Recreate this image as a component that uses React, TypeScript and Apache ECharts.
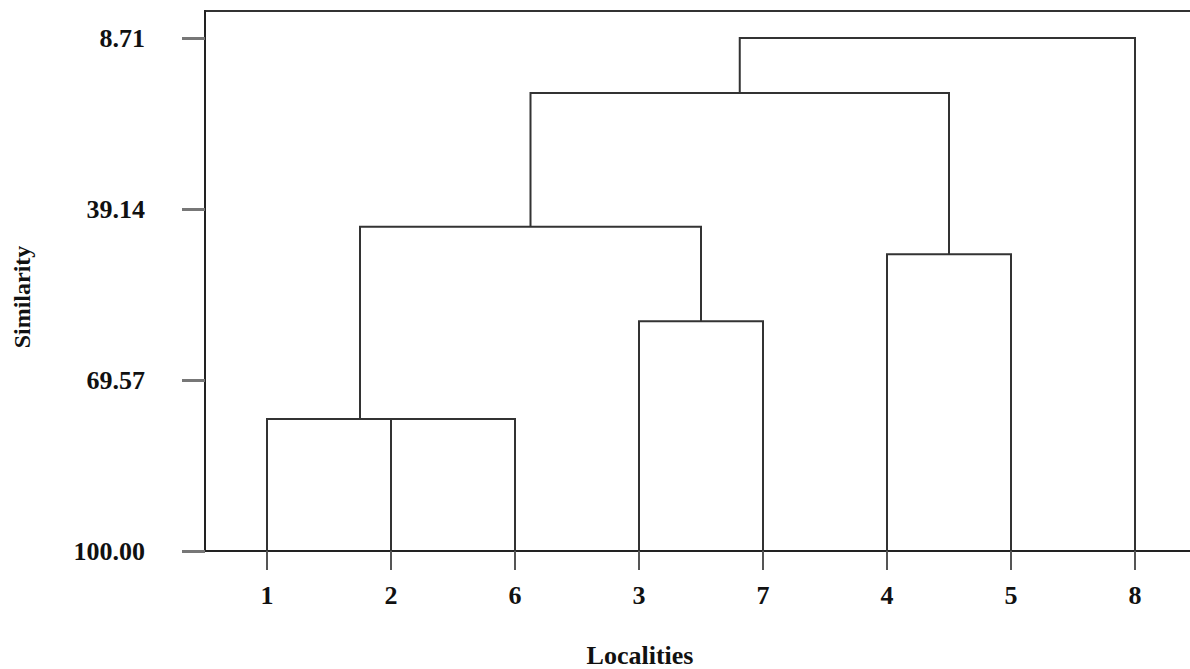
import React, { useEffect, useRef } from "react";
import * as echarts from "echarts";

// Leaf order along the x axis
const leaves = ["1", "2", "6", "3", "7", "4", "5", "8"];
// Merge steps (ids 0-7 are leaves by position, 8+ are merges in order)
const mergeLeft = [1, 0, 3, 9, 5, 11, 13];
const mergeRight = [2, 8, 4, 10, 6, 12, 7];
const mergeHeight = [76.5, 76.5, 59.1, 42.3, 47.2, 18.5, 8.71];
// Y tick labels
const yTicks = [8.71, 39.14, 69.57, 100.0];
const leafHeight = 100;

const FONT = '"Liberation Serif", "Times New Roman", serif';

function buildRows() {
  const nodeX: number[] = leaves.map((_, i) => i);
  const nodeH: number[] = leaves.map(() => leafHeight);
  const rows: number[][] = [];
  for (let i = 0; i < mergeLeft.length; i++) {
    const l = mergeLeft[i];
    const r = mergeRight[i];
    const h = mergeHeight[i];
    rows.push([nodeX[l], nodeH[l], nodeX[r], nodeH[r], h]);
    nodeX.push((nodeX[l] + nodeX[r]) / 2);
    nodeH.push(h);
  }
  return rows;
}

export default function App() {
  const ref = useRef<HTMLDivElement>(null);
  useEffect(() => {
    if (!ref.current) return;
    const chart = echarts.init(ref.current, null, { renderer: "svg" });
    const xVals = leaves.map((_, i) => i);
    chart.setOption({
      animation: false,
      backgroundColor: "#ffffff",
      grid: {
        left: 205,
        top: 11,
        width: 992,
        height: 540,
        containLabel: false,
        outerBoundsMode: "none",
        show: true,
        borderColor: "#333",
        borderWidth: 2,
      },
      xAxis: {
        type: "value",
        min: -0.5,
        max: 7.5,
        position: "bottom",
        axisLine: { show: true, onZero: false, lineStyle: { color: "#222", width: 2 } },
        axisTick: { show: true, customValues: xVals, length: 19, lineStyle: { color: "#555", width: 2 } },
        axisLabel: {
          customValues: xVals,
          formatter: (v: number) => leaves[Math.round(v)] ?? "",
          margin: 31,
          fontSize: 26,
          fontWeight: "bold",
          fontFamily: FONT,
          color: "#111",
        },
        splitLine: { show: false },
      },
      yAxis: {
        type: "value",
        inverse: true,
        min: 3.9,
        max: 100,
        axisLine: { show: true, onZero: false, lineStyle: { color: "#222", width: 2 } },
        axisTick: { show: true, customValues: yTicks, length: 23, lineStyle: { color: "#777", width: 3 } },
        axisLabel: {
          customValues: yTicks,
          formatter: (v: number) => v.toFixed(2),
          margin: 60,
          fontSize: 26,
          fontWeight: "bold",
          fontFamily: FONT,
          color: "#111",
        },
        splitLine: { show: false },
      },
      graphic: [
        {
          type: "text",
          x: 22,
          y: 297,
          rotation: Math.PI / 2,
          style: {
            text: "Similarity",
            font: `bold 24px ${FONT}`,
            fill: "#111",
            textAlign: "center",
            textVerticalAlign: "middle",
          },
        },
        {
          type: "text",
          x: 640,
          y: 655,
          style: {
            text: "Localities",
            font: `bold 26px ${FONT}`,
            fill: "#111",
            textAlign: "center",
            textVerticalAlign: "middle",
          },
        },
      ],
      series: [
        {
          type: "custom",
          clip: false,
          data: buildRows(),
          renderItem: (params: any, api: any) => {
            const xl = api.value(0);
            const hl = api.value(1);
            const xr = api.value(2);
            const hr = api.value(3);
            const h = api.value(4);
            const pts = [
              api.coord([xl, hl]),
              api.coord([xl, h]),
              api.coord([xr, h]),
              api.coord([xr, hr]),
            ];
            return {
              type: "polyline",
              shape: { points: pts },
              style: { stroke: "#333", lineWidth: 2, fill: "none" },
            };
          },
        },
      ],
    });
    return () => chart.dispose();
  }, []);
  return (
    <div
      ref={ref}
      style={{ position: "absolute", left: 0, top: 0, width: 1190, height: 669 }}
    />
  );
}
